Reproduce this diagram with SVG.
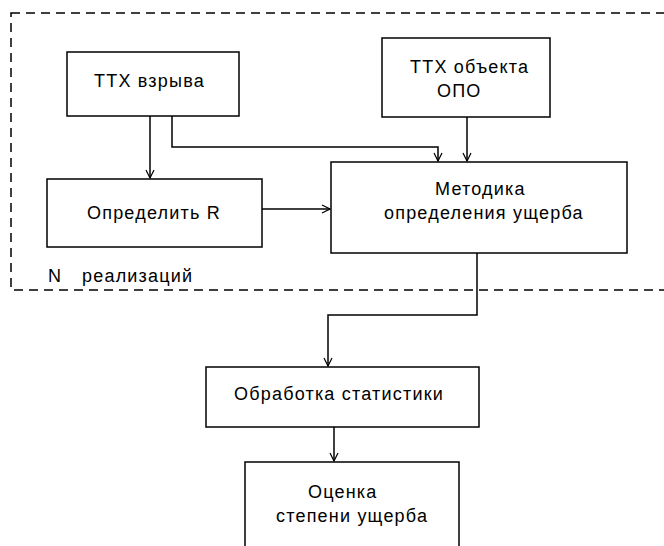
<svg xmlns="http://www.w3.org/2000/svg" width="664" height="546" viewBox="0 0 664 546">
<defs>
<marker id="arr" viewBox="0 0 10 10" refX="9" refY="5" markerWidth="10" markerHeight="10" markerUnits="userSpaceOnUse" orient="auto">
<path d="M1,1 L9,5 L1,9" fill="none" stroke="#000" stroke-width="1.2"/>
</marker>
</defs>
<style>
.box{fill:#fff;stroke:#000;stroke-width:1.5}
.t{font-family:"Liberation Sans",Arial,sans-serif;font-size:18px;letter-spacing:1.2px;fill:#000}
.c{fill:none;stroke:#000;stroke-width:1.5}
</style>
<rect width="664" height="546" fill="#fff"/>
<rect id="frame" x="11" y="13" width="670" height="277" fill="none" stroke="#000" stroke-width="1.5" stroke-dasharray="9,6"/>
<g id="connectors">
<path class="c" d="M150,116 V178" marker-end="url(#arr)"/>
<path class="c" d="M172,116 V147 H438 V161" marker-end="url(#arr)"/>
<path class="c" d="M467,117 V161" marker-end="url(#arr)"/>
<path class="c" d="M262,209 H330" marker-end="url(#arr)"/>
<path class="c" d="M477,253 V315 H328 V366" marker-end="url(#arr)"/>
<path class="c" d="M334,427 V461" marker-end="url(#arr)"/>
</g>
<g id="ttx-vzryva">
<rect class="box" x="67" y="52" width="172" height="64"/>
<text class="t" x="94" y="87">ТТХ взрыва</text>
</g>
<g id="ttx-opo">
<rect class="box" x="382" y="38" width="168" height="79"/>
<text class="t" x="410" y="73">ТТХ объекта</text>
<text class="t" x="437" y="97">ОПО</text>
</g>
<g id="opredelit">
<rect class="box" x="47" y="179" width="215" height="68"/>
<text class="t" x="87" y="219">Определить R</text>
</g>
<g id="metodika">
<rect class="box" x="331" y="162" width="296" height="91"/>
<text class="t" x="435" y="195">Методика</text>
<text class="t" x="384" y="219">определения ущерба</text>
</g>
<g id="n-label">
<text class="t" x="48" y="282">N</text>
<text class="t" x="82" y="282">реализаций</text>
</g>
<g id="obrabotka">
<rect class="box" x="206" y="367" width="273" height="60"/>
<text class="t" x="234" y="400">Обработка статистики</text>
</g>
<g id="ocenka">
<rect class="box" x="245" y="462" width="214" height="100"/>
<text class="t" x="308" y="498">Оценка</text>
<text class="t" x="276" y="522">степени ущерба</text>
</g>
</svg>
